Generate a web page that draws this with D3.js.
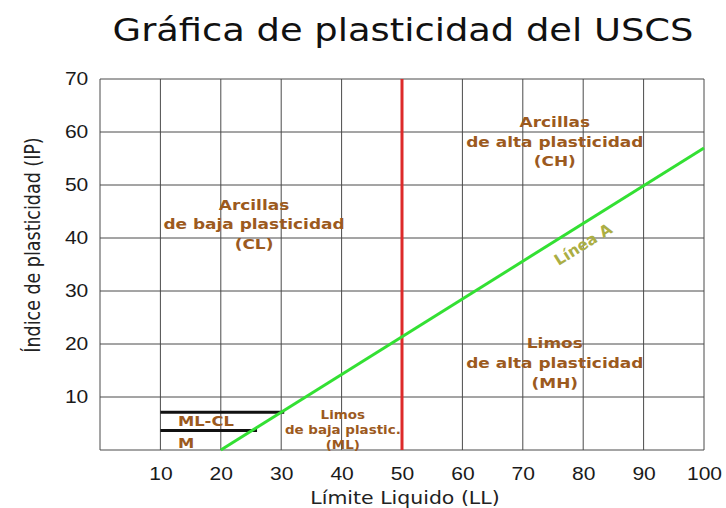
<!DOCTYPE html>
<html>
<head>
<meta charset="utf-8">
<script src="https://cdn.jsdelivr.net/npm/d3@7"></script>
<style>
  body { margin: 0; background: #fff; }
  svg { font-family: "DejaVu Sans", Verdana, sans-serif; }
  .grid line { stroke: #4a4a4a; stroke-width: 1; }
  .tick text { fill: #1a1a1a; }
  .zone { fill: #9c5a1e; font-weight: bold; text-anchor: middle; }
</style>
</head>
<body>
<svg width="726" height="508"></svg>
<script>
const svg = d3.select('svg');
const SX = 1.17; // the original picture is a bit wider than tall

// ticks
const xTicks = [10, 20, 30, 40, 50, 60, 70, 80, 90, 100];
const yTicks = [10, 20, 30, 40, 50, 60, 70];

// Linea A (LL, IP)
const lineaA = [[20, 0], [100, 57]];
// limite LL = 50
const limite50 = [[50, 0], [50, 70]];
// lineas negras ML-CL
const mlclLines = [
  [[10, 7.1], [30.5, 7.1]],
  [[10, 3.7], [26, 3.7]]
];

// zonas: posicion en LL / IP
const zones = [
  { lines: ['Arcillas', 'de baja plasticidad', '(CL)'], ll: 25.5, ip: 45.3, size: 14.5, lh: 19.5 },
  { lines: ['Arcillas', 'de alta plasticidad', '(CH)'], ll: 75.3, ip: 60.9, size: 14.5, lh: 19.5 },
  { lines: ['Limos', 'de alta plasticidad', '(MH)'], ll: 75.3, ip: 19.2, size: 14.5, lh: 20 },
  { lines: ['Limos', 'de baja plastic.', '(ML)'], ll: 40.2, ip: 5.85, size: 11.5, lh: 15 }
];

const x = d3.scaleLinear().domain([0, 100]).range([100, 704]);
const y = d3.scaleLinear().domain([0, 70]).range([450, 79]);

// grid
const grid = svg.append('g').attr('class', 'grid');
grid.selectAll('.vx').data([0].concat(xTicks)).enter().append('line')
  .attr('x1', d => x(d)).attr('x2', d => x(d))
  .attr('y1', y(0)).attr('y2', y(70));
grid.selectAll('.hy').data([0].concat(yTicks)).enter().append('line')
  .attr('y1', d => y(d)).attr('y2', d => y(d))
  .attr('x1', x(0)).attr('x2', x(100));

// axes (labels only)
const xAxis = svg.append('g')
  .attr('transform', `translate(0,${y(0)})`)
  .call(d3.axisBottom(x).tickValues(xTicks).tickSize(0).tickPadding(17));
xAxis.select('.domain').remove();
xAxis.selectAll('text').style('font-size', '18px').attr('font-family', null)
  .attr('transform', `scale(${SX},1)`);

const yAxis = svg.append('g')
  .attr('transform', `translate(${x(0)},0)`)
  .call(d3.axisLeft(y).tickValues(yTicks).tickSize(0).tickPadding(10));
yAxis.select('.domain').remove();
yAxis.selectAll('text').style('font-size', '18px').attr('font-family', null)
  .attr('transform', `scale(${SX},1)`);

const line = d3.line().x(d => x(d[0])).y(d => y(d[1]));

mlclLines.forEach(l => {
  svg.append('path').attr('d', line(l))
    .attr('stroke', '#111').attr('stroke-width', 3).attr('fill', 'none');
});

// zone labels
zones.forEach(z => {
  const t = svg.append('text').attr('class', 'zone')
    .style('font-size', z.size + 'px')
    .attr('transform', `translate(${x(z.ll)},${y(z.ip)}) scale(${SX},1)`);
  z.lines.forEach((s, i) => {
    t.append('tspan').attr('x', 0).attr('dy', i === 0 ? 0 : z.lh).text(s);
  });
});

svg.append('text').attr('class', 'zone')
  .style('font-size', '14px').style('text-anchor', 'start')
  .attr('transform', `translate(${x(12.9)},${y(4.45)}) scale(${SX},1)`).text('ML-CL');
svg.append('text').attr('class', 'zone')
  .style('font-size', '14px').style('text-anchor', 'start')
  .attr('transform', `translate(${x(12.9)},${y(0.4)}) scale(${SX},1)`).text('M');

svg.append('path').attr('d', line(limite50))
  .attr('stroke', '#dd2a2a').attr('stroke-width', 3).attr('fill', 'none');

svg.append('path').attr('d', line(lineaA))
  .attr('stroke', '#33e033').attr('stroke-width', 3).attr('fill', 'none');

// Linea A label
const ang = Math.atan2(y(lineaA[1][1]) - y(lineaA[0][1]), x(lineaA[1][0]) - x(lineaA[0][0])) * 180 / Math.PI;
svg.append('text')
  .attr('transform', `translate(586,249) rotate(${ang})`)
  .attr('text-anchor', 'middle')
  .style('font-size', '15.5px').style('font-weight', 'bold')
  .attr('fill', '#abae44')
  .text('Línea A');

// titles
svg.append('text')
  .attr('transform', `translate(403,41) scale(${SX},1)`)
  .attr('text-anchor', 'middle')
  .style('font-size', '31.5px').attr('fill', '#111')
  .text('Gráfica de plasticidad del USCS');

svg.append('text')
  .attr('transform', `translate(405,504) scale(${SX},1)`)
  .attr('text-anchor', 'middle')
  .style('font-size', '17.5px').attr('fill', '#222')
  .text('Límite Liquido (LL)');

svg.append('text')
  .attr('transform', `translate(40,245) rotate(-90) scale(1,${SX})`)
  .attr('text-anchor', 'middle')
  .style('font-size', '17.5px').attr('fill', '#222')
  .text('Índice de plasticidad (IP)');
</script>
</body>
</html>
